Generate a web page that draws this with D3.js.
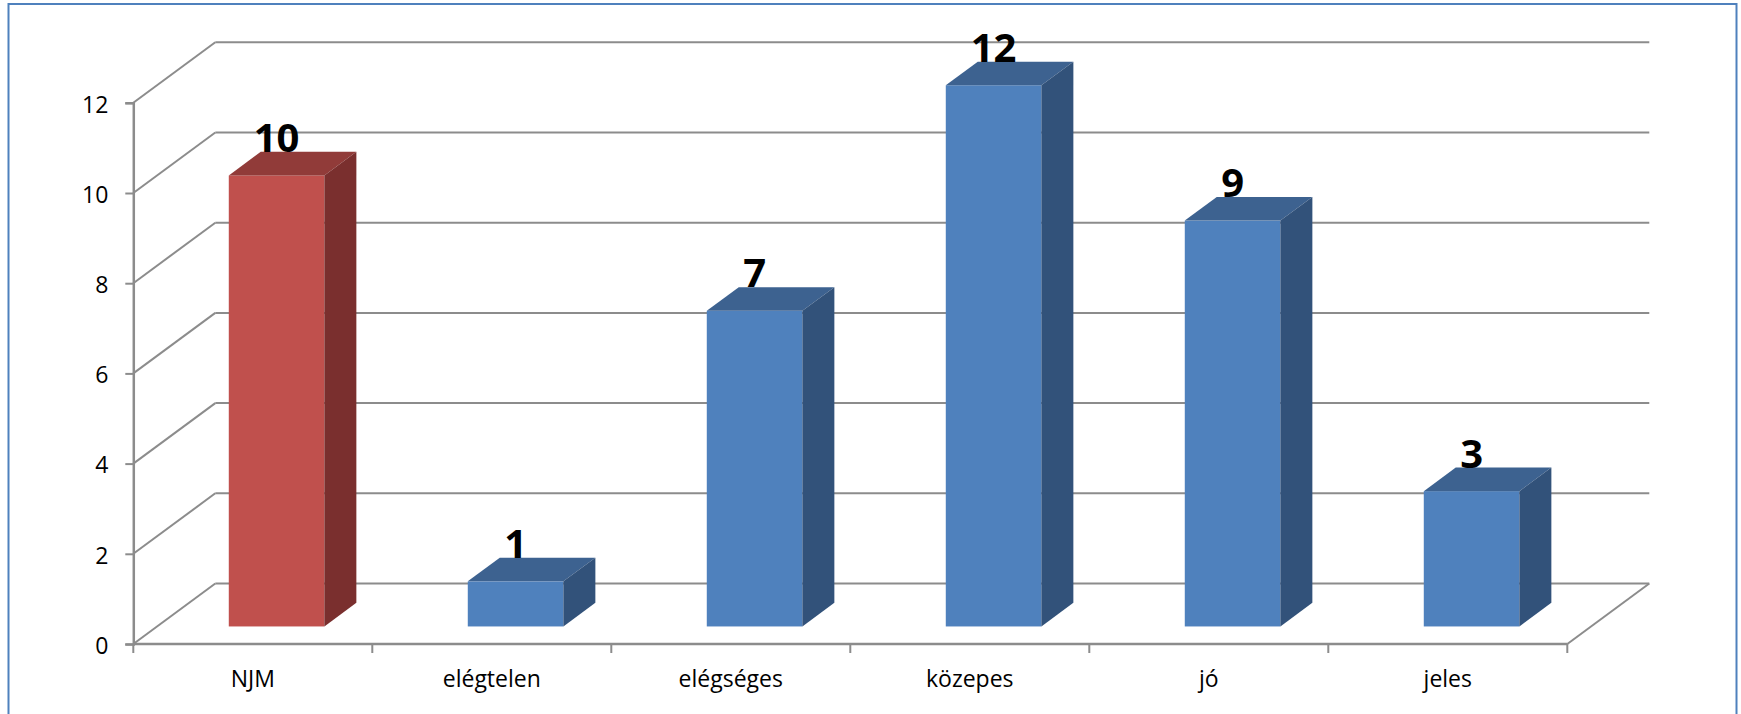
<!DOCTYPE html>
<html>
<head>
<meta charset="utf-8">
<script src="https://cdn.jsdelivr.net/npm/d3@7"></script>
<style>
  html, body { margin: 0; padding: 0; background: #fff; }
  svg { display: block; }
</style>
</head>
<body>
<svg id="chart" width="1741" height="714"></svg>
<script>
// ---- data ----
const categories = ["NJM", "elégtelen", "elégséges", "közepes", "jó", "jeles"];
const values = [10, 1, 7, 12, 9, 3];
const highlighted = ["NJM"];
const yTicks = [0, 2, 4, 6, 8, 10, 12];

// ---- layout ----
const W = 1741, H = 714;
const plotLeft = 133.3, plotRight = 1567.3;
const floorY = 644, topY = 102.8;
const depthDX = 82, depthDY = -60.5;   // offset from front to back wall
const barFront = 0.29, barDepth = 0.39; // fractions of total depth

const palette = {
  blue: { front: "#4F81BD", top: "#3D6290", side: "#32527A" },
  red:  { front: "#C0504D", top: "#913B39", side: "#7A2F2E" }
};
const gridColor = "#8C8C8C";

const svg = d3.select("#chart");

// frame
svg.append("rect")
  .attr("x", 8.5).attr("y", 4).attr("width", 1728).attr("height", 730)
  .attr("fill", "none").attr("stroke", "#4F81BD").attr("stroke-width", 2);

const y = d3.scaleLinear().domain([0, 12]).range([floorY, topY]);
const xCat = d3.scaleBand().domain(categories).range([plotLeft, plotRight]).padding(0);
const xBar = d3.scaleBand().domain(categories).range([plotLeft, plotRight])
  .paddingInner(0.6).paddingOuter(0.3);

const g = svg.append("g");

// back wall gridlines
g.selectAll("line.grid").data(yTicks).join("line")
  .attr("class", "grid")
  .attr("x1", plotLeft + depthDX).attr("x2", plotRight + depthDX)
  .attr("y1", d => y(d) + depthDY).attr("y2", d => y(d) + depthDY)
  .attr("stroke", gridColor).attr("stroke-width", 2);

// side wall diagonals
g.selectAll("line.side").data(yTicks).join("line")
  .attr("class", "side")
  .attr("x1", plotLeft).attr("x2", plotLeft + depthDX)
  .attr("y1", d => y(d)).attr("y2", d => y(d) + depthDY)
  .attr("stroke", gridColor).attr("stroke-width", 2);

// floor front edge and right edge
g.append("line")
  .attr("x1", plotLeft).attr("x2", plotRight)
  .attr("y1", y(0)).attr("y2", y(0))
  .attr("stroke", gridColor).attr("stroke-width", 2.5);
g.append("line")
  .attr("x1", plotRight).attr("x2", plotRight + depthDX)
  .attr("y1", y(0)).attr("y2", y(0) + depthDY)
  .attr("stroke", gridColor).attr("stroke-width", 2);

// y axis
const yAxis = d3.axisLeft(y).tickValues(yTicks).tickSize(8).tickPadding(17);
const ya = svg.append("g").attr("transform", `translate(${plotLeft},0)`).call(yAxis);
ya.select(".domain").attr("stroke", gridColor).attr("stroke-width", 2.5);
ya.selectAll(".tick line").attr("stroke", gridColor).attr("stroke-width", 2);
ya.selectAll(".tick text")
  .attr("font-family", "'Open Sans', sans-serif").attr("font-size", 23)
  .attr("fill", "#000").attr("dy", "0.4em");

// x axis ticks at category boundaries
const boundaries = categories.map(c => xCat(c)).concat([plotRight]);
g.selectAll("line.xtick").data(boundaries).join("line")
  .attr("class", "xtick")
  .attr("x1", d => d).attr("x2", d => d)
  .attr("y1", y(0)).attr("y2", y(0) + 9)
  .attr("stroke", gridColor).attr("stroke-width", 2);

// x labels
svg.selectAll("text.xlab").data(categories).join("text")
  .attr("class", "xlab")
  .attr("x", d => xCat(d) + xCat.bandwidth() / 2)
  .attr("y", 686.5)
  .attr("text-anchor", "middle")
  .attr("font-family", "'Open Sans', sans-serif").attr("font-size", 23)
  .attr("fill", "#000")
  .text(d => d);

// bars
const bars = categories.map((c, i) => {
  const col = highlighted.includes(c) ? palette.red : palette.blue;
  const xl = xBar(c) + barFront * depthDX;
  const xr = xl + xBar.bandwidth();
  const yt = y(values[i]) + barFront * depthDY;
  const yb = y(0) + barFront * depthDY;
  const bx = barDepth * depthDX, by = barDepth * depthDY;
  return { c, v: values[i], col, xl, xr, yt, yb, bx, by };
});

const bg = svg.append("g");
bars.forEach(b => {
  bg.append("rect")
    .attr("x", b.xl).attr("y", b.yt)
    .attr("width", b.xr - b.xl).attr("height", b.yb - b.yt)
    .attr("fill", b.col.front);
  bg.append("polygon")
    .attr("points", [[b.xl, b.yt], [b.xr, b.yt], [b.xr + b.bx, b.yt + b.by], [b.xl + b.bx, b.yt + b.by]].map(p => p.join(",")).join(" "))
    .attr("fill", b.col.top);
  bg.append("polygon")
    .attr("points", [[b.xr, b.yt], [b.xr + b.bx, b.yt + b.by], [b.xr + b.bx, b.yb + b.by], [b.xr, b.yb]].map(p => p.join(",")).join(" "))
    .attr("fill", b.col.side);
});

// data labels
svg.selectAll("text.val").data(bars).join("text")
  .attr("class", "val")
  .attr("x", b => (b.xl + b.xr) / 2)
  .attr("y", b => b.yt + b.by)
  .attr("text-anchor", "middle")
  .attr("font-family", "'Open Sans', sans-serif").attr("font-weight", "bold")
  .attr("font-size", 40).attr("fill", "#000")
  .text(b => b.v);
</script>
</body>
</html>
